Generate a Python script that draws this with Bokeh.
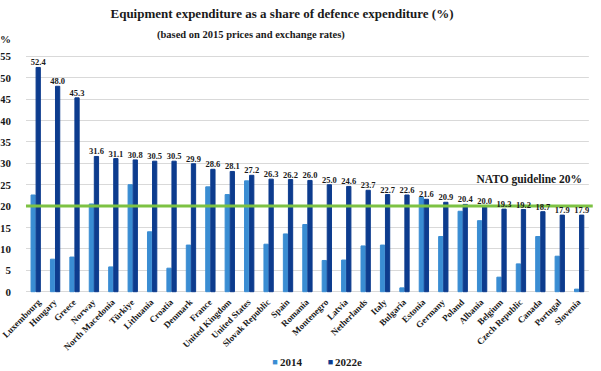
from bokeh.plotting import figure
from bokeh.models import Range1d, Label, ColumnDataSource, FixedTicker, LabelSet
from bokeh.transform import dodge
from bokeh.embed import file_html
from bokeh.resources import INLINE
from math import pi

countries = ["Luxembourg", "Hungary", "Greece", "Norway", "North Macedonia", "Türkiye", "Lithuania",
             "Croatia", "Denmark", "France", "United Kingdom", "United States", "Slovak Republic", "Spain",
             "Romania", "Montenegro", "Latvia", "Netherlands", "Italy", "Bulgaria", "Estonia", "Germany",
             "Poland", "Albania", "Belgium", "Czech Republic", "Canada", "Portugal", "Slovenia"]
v2014 = [22.6, 7.6, 8.1, 20.5, 5.8, 25.0, 14.0, 5.5, 10.9, 24.5, 22.7, 25.9, 11.1, 13.5, 15.7,
         7.3, 7.4, 10.7, 10.9, 0.9, 22.1, 12.9, 18.8, 16.6, 3.4, 6.5, 12.9, 8.3, 0.6]
v2022 = [52.4, 48.0, 45.3, 31.6, 31.1, 30.8, 30.5, 30.5, 29.9, 28.6, 28.1, 27.2, 26.3, 26.2, 26.0,
         25.0, 24.6, 23.7, 22.7, 22.6, 21.6, 20.9, 20.4, 20.0, 19.3, 19.2, 18.7, 17.9, 17.9]
series = ["2014", "2022e"]
yticks = [0, 5, 10, 15, 20, 25, 30, 35, 40, 45, 50, 55]
guideline = 20

FONT = "Liberation Serif"
C14 = "#3A8DD3"
C22 = "#0D3C8E"
TXT = "#1a1a1a"

n = len(countries)
idx = list(range(n))
src = ColumnDataSource(dict(i=idx, a=v2014, b=v2022, lab=[f"{v:.1f}" for v in v2022]))

X0, X1 = -1.813, 28.996
Y0, Y1 = -17.94, 68.04
p = figure(width=598, height=368, x_range=Range1d(X0, X1), y_range=Range1d(Y0, Y1),
           output_backend="svg", toolbar_location=None,
           min_border_left=0, min_border_right=0, min_border_top=0, min_border_bottom=0)
p.outline_line_color = None

# white masks so that the gridlines only span the category area
p.quad(left=[X0 - 1, n - 0.5], right=[-0.5, X1 + 1], bottom=[-1, -1], top=[max(yticks) + 1] * 2,
       color="white", line_color=None)

p.vbar(x=dodge("i", -0.13), top="a", width=0.22, source=src, color=C14)
p.vbar(x=dodge("i", 0.13), top="b", width=0.22, source=src, color=C22)

# NATO guideline
p.segment(x0=[-0.5], x1=[n - 0.3], y0=[guideline], y1=[guideline], line_color="#7DC243", line_width=3)

p.add_layout(LabelSet(x=dodge("i", 0.13), y="b", text="lab", source=src,
                      text_align="center", text_baseline="bottom", y_offset=2,
                      text_font=FONT, text_font_style="bold", text_font_size="8.5px", text_color=TXT))

PCT_Y = 59.04
p.yaxis.fixed_location = -0.5
p.yaxis.ticker = FixedTicker(ticks=yticks + [PCT_Y])
p.yaxis.major_label_overrides = {PCT_Y: "%"}
p.yaxis.axis_line_color = None
p.yaxis.major_tick_line_color = None
p.yaxis.minor_tick_line_color = None
p.yaxis.major_label_text_font = FONT
p.yaxis.major_label_text_font_style = "bold"
p.yaxis.major_label_text_font_size = "11px"
p.yaxis.major_label_text_color = TXT
p.yaxis.major_label_standoff = 9

p.xaxis.fixed_location = 0
p.xaxis.ticker = FixedTicker(ticks=idx)
p.xaxis.major_label_overrides = {i: c for i, c in zip(idx, countries)}
p.xaxis.axis_line_color = None
p.xaxis.major_tick_line_color = None
p.xaxis.minor_tick_line_color = None
p.xaxis.major_label_orientation = pi / 4
p.xaxis.major_label_text_font = FONT
p.xaxis.major_label_text_font_style = "bold"
p.xaxis.major_label_text_font_size = "9px"
p.xaxis.major_label_text_color = TXT
p.xaxis.major_label_standoff = 3

p.xgrid.grid_line_color = None
p.ygrid.ticker = FixedTicker(ticks=yticks)
p.ygrid.grid_line_color = "#D9D9D9"
p.ygrid.grid_line_width = 1

def lab(x, y, text, size, align="center", color=TXT):
    p.add_layout(Label(x=x, y=y, text=text, text_align=align, text_baseline="middle",
                       text_font=FONT, text_font_style="bold", text_font_size=size, text_color=color))

lab(12.69, 64.89, "Equipment expenditure as a share of defence expenditure (%)", "13px")
lab(11.09, 59.98, "(based on 2015 prices and exchange rates)", "10.5px")
lab(28.15, 26.3, "NATO guideline 20%", "11.5px", align="right")

# legend
LY = -16.43
lab(12.33, LY, "■", "9px", color=C14)
lab(12.59, LY, series[0], "11px", align="left")
lab(15.19, LY, "■", "9px", color=C22)
lab(15.42, LY, series[1], "11px", align="left")

open("out.html", "w").write(file_html(p, INLINE))
